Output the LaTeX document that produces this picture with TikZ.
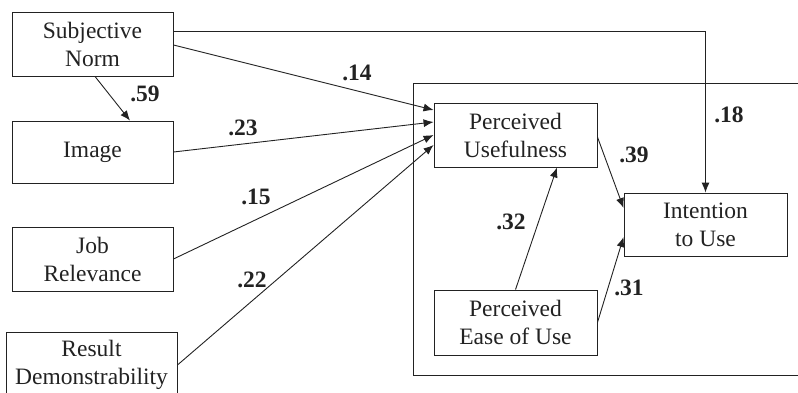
\documentclass[tikz,border=0pt]{standalone}
\usepackage{fontspec}
\setmainfont{Liberation Serif}
\usetikzlibrary{arrows.meta}
\definecolor{ink}{HTML}{222222}
\begin{document}
\begin{tikzpicture}[x=1pt,y=-1pt,
  box/.style={draw=ink,line width=0.9pt,text=ink,align=center,inner sep=0pt,
    font=\fontsize{23.5}{28}\selectfont},
  arr/.style={draw=ink,line width=0.9pt,-{Latex[length=10pt,width=8pt]}},
  coef/.style={text=ink,font=\fontsize{23.5}{28}\selectfont\bfseries,inner sep=0pt}]
\useasboundingbox (0,0) rectangle (798,392);
% frame
\draw[ink,line width=0.9pt] (413,83) rectangle (830,375);
% boxes
\node[box,minimum width=161pt,minimum height=64pt] (SN) at (92.5,44) {Subjective\\Norm};
\node[box,minimum width=161pt,minimum height=62pt] (IM) at (92.5,152) {Image};
\node[box,minimum width=161pt,minimum height=64pt] (JR) at (92.5,259) {Job\\Relevance};
\node[box,minimum width=171pt,minimum height=66pt] (RD) at (91.5,365) {Result\\Demonstrability};
\node[box,minimum width=163pt,minimum height=64pt] (PU) at (515.5,135) {Perceived\\Usefulness};
\node[box,minimum width=163pt,minimum height=63pt] (IU) at (705.5,224.5) {Intention\\to Use};
\node[box,minimum width=163pt,minimum height=65pt] (PE) at (515.5,322.5) {Perceived\\Ease of Use};
% connectors
\draw[arr] ([yshift=13pt]SN.east) -| (IU.north);
\draw[arr] ([yshift=-1pt]SN.east) -- ([yshift=25pt]PU.west);
\draw[arr] (IM.east) -- ([yshift=13pt]PU.west);
\draw[arr] (JR.east) -- (PU.west);
\draw[arr] (RD.east) -- ([yshift=-10pt]PU.west);
\draw[arr] ([xshift=2.5pt]SN.south) -- ([xshift=37.5pt]IM.north);
\draw[arr] ([yshift=-2pt]PU.east) -- ([yshift=16.5pt]IU.west);
\draw[arr] (PE.north) -- ([xshift=41.5pt]PU.south);
\draw[arr] (PE.east) -- ([yshift=-12.5pt]IU.west);
% coefficients
\node[coef] (c59) at (145,94) {.59};
\node[coef] (c14) at (357,73) {.14};
\node[coef] (c23) at (243,128) {.23};
\node[coef] (c15) at (256,197) {.15};
\node[coef] (c22) at (252,280) {.22};
\node[coef] (c18) at (729,115) {.18};
\node[coef] (c39) at (634,155) {.39};
\node[coef] (c32) at (511,222) {.32};
\node[coef] (c31) at (629,288) {.31};
\end{tikzpicture}
\end{document}
